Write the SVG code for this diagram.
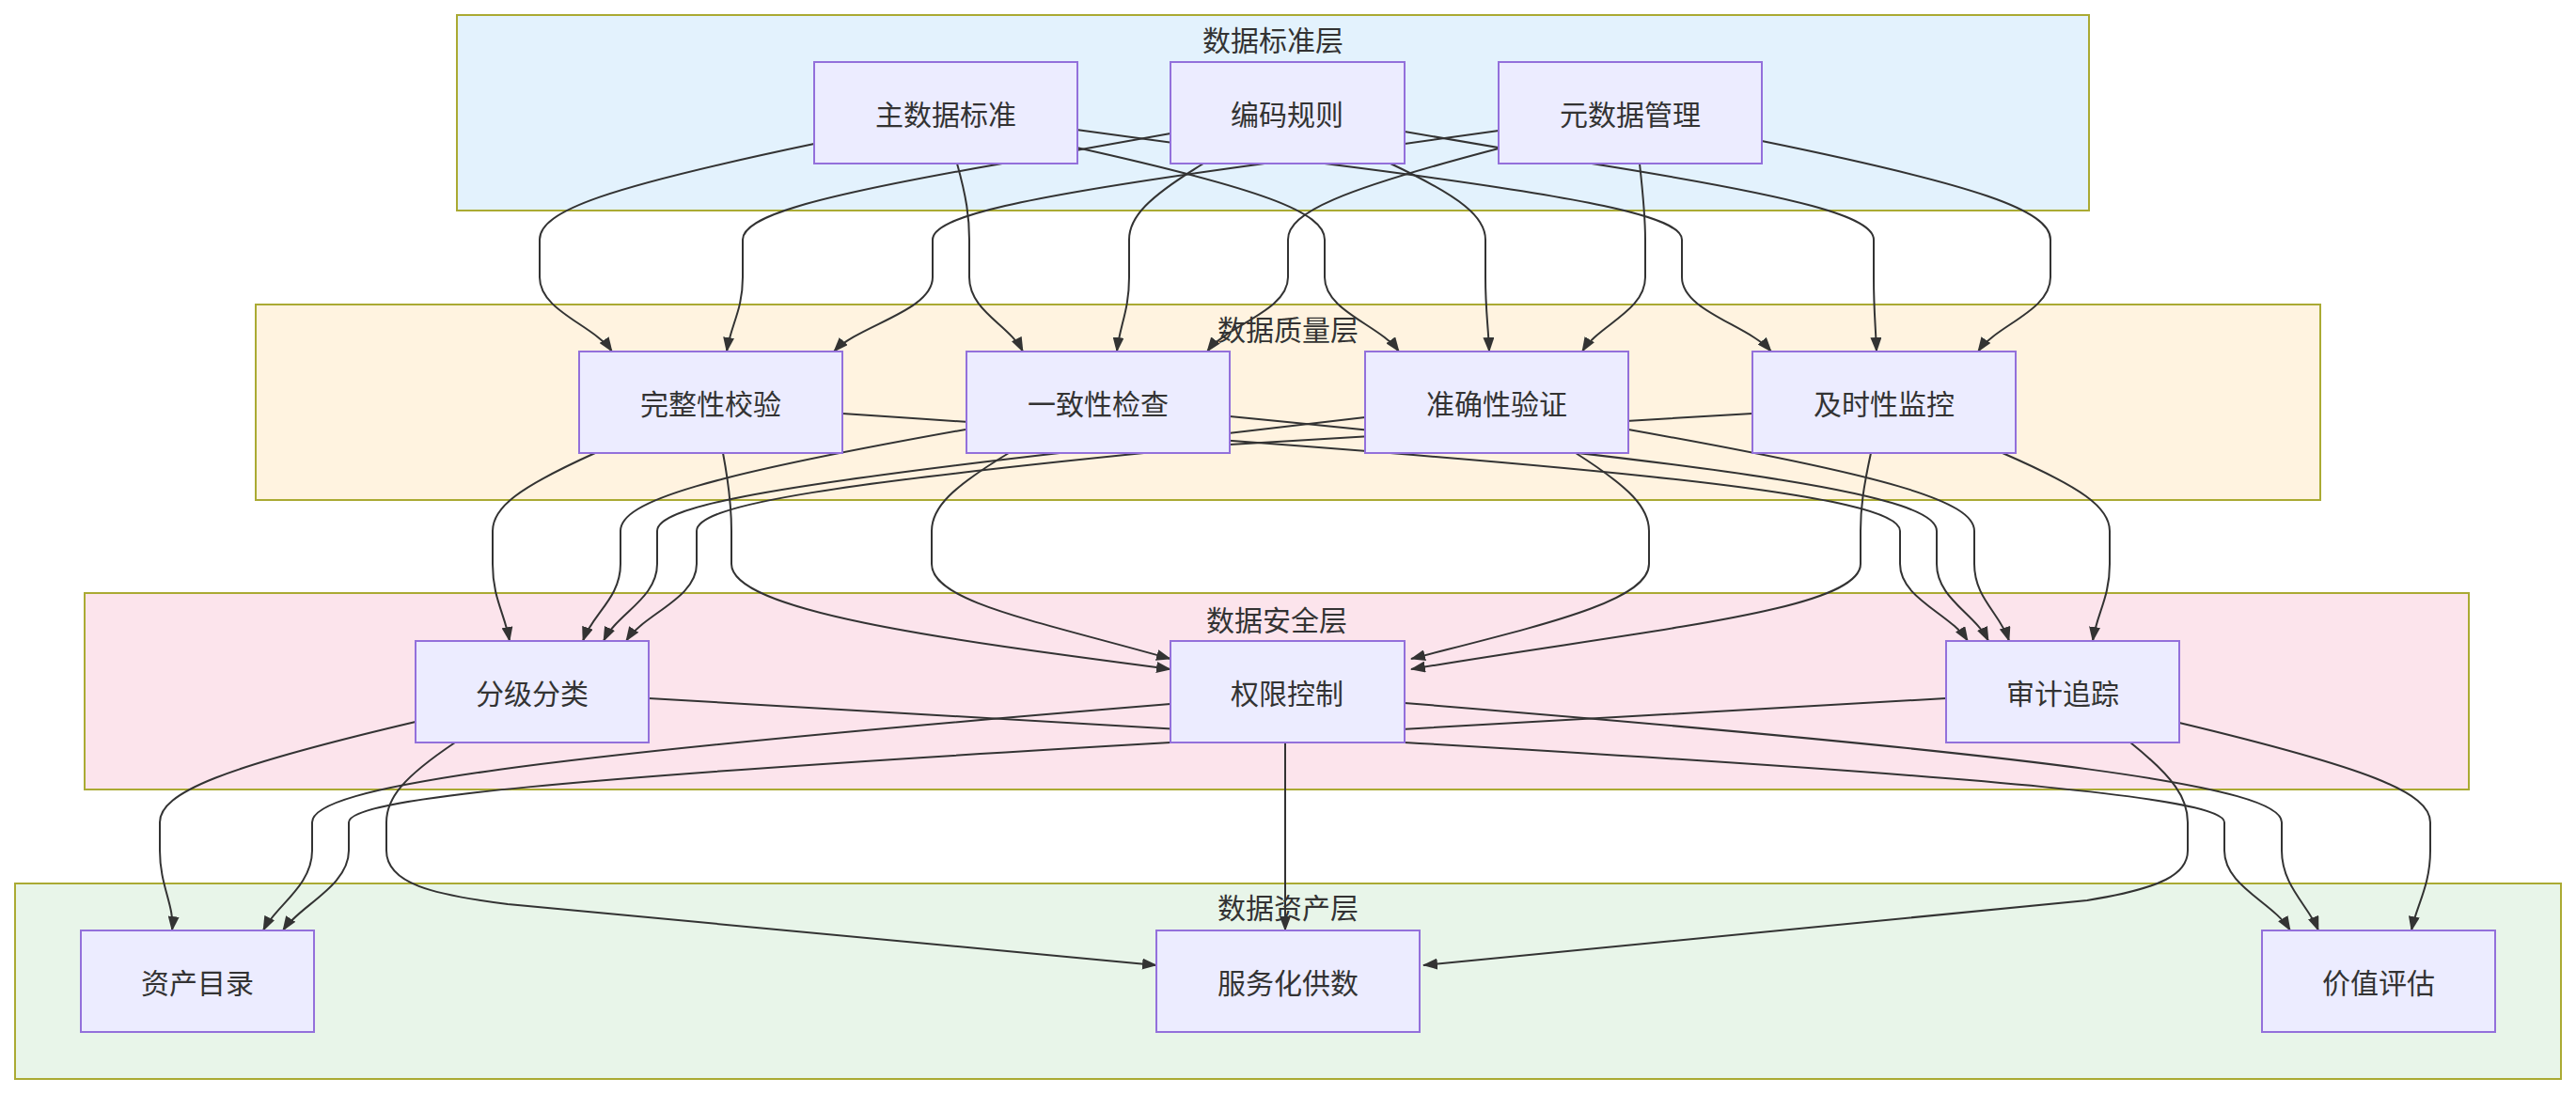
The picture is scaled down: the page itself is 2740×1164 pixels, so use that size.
<svg xmlns="http://www.w3.org/2000/svg" width="2740" height="1164" viewBox="0 0 2740 1164">
<style>
.cl{stroke:#AAAA33;stroke-width:2}
.nd rect{fill:#ECECFF;stroke:#9370DB;stroke-width:2}
text{font-family:"Noto Sans CJK SC","Liberation Sans",sans-serif;font-size:30px;fill:#333;text-anchor:middle;dominant-baseline:central}
.e path{fill:none;stroke:#333;stroke-width:2;marker-end:url(#ah)}
</style>
<defs><marker id="ah" markerUnits="userSpaceOnUse" markerWidth="16" markerHeight="12" refX="15" refY="6" orient="auto"><path d="M0,0 L16,6 L0,12 z" fill="#333"/></marker></defs>
<rect width="2740" height="1164" fill="#fff"/>
<g id="clusters">
<g id="c-std"><rect class="cl" x="486" y="16" width="1736" height="208" fill="#E3F2FD"/><text x="1354" y="41">数据标准层</text></g>
<g id="c-qual"><rect class="cl" x="272" y="324" width="2196" height="208" fill="#FFF3E0"/><text x="1370" y="349">数据质量层</text></g>
<g id="c-sec"><rect class="cl" x="90" y="631" width="2536" height="209" fill="#FCE4EC"/><text x="1358" y="658">数据安全层</text></g>
<g id="c-ast"><rect class="cl" x="16" y="940" width="2708" height="208" fill="#E8F5E9"/><text x="1370" y="964">数据资产层</text></g>
</g>
<g id="edges" class="e">
<path d="M866,153 C647,199 574,224 574,255 L574,295 C574,331 632,346 651,374"/>
<path d="M1245,142 L1066,174 C859,210 790,231 790,255 L790,295 C790,331 777,346 773,374"/>
<path d="M1594,139 L1345,174 C1080,210 992,231 992,255 L992,295 C992,331 913,346 887,374"/>
<path d="M1018,174 C1028,210 1031,231 1031,255 L1031,295 C1031,331 1074,346 1088,374"/>
<path d="M1280,174 C1221,210 1201,231 1201,255 L1201,295 C1201,331 1191,346 1188,374"/>
<path d="M1594,158 C1426,202 1370,226 1370,255 L1370,295 C1370,331 1305,346 1284,374"/>
<path d="M1145,157 C1343,201 1409,226 1409,255 L1409,295 C1409,331 1468,346 1488,374"/>
<path d="M1479,174 C1555,210 1580,231 1580,255 L1580,295 C1580,331 1583,346 1584,374"/>
<path d="M1744,174 C1748,210 1750,231 1750,255 L1750,295 C1750,331 1700,346 1683,374"/>
<path d="M1145,138 L1409,174 C1694,210 1789,231 1789,255 L1789,295 C1789,331 1860,346 1884,374"/>
<path d="M1494,140 L1693,174 C1918,210 1993,231 1993,255 L1993,295 C1993,331 1995,346 1996,374"/>
<path d="M1874,150 C2104,197 2181,224 2181,255 L2181,295 C2181,331 2123,346 2104,374"/>
<path d="M633,482 C551,519 524,540 524,565 L524,600 C524,637 537,653 542,682"/>
<path d="M769,482 C776,519 778,540 778,565 L778,600 C778,650 1000,680 1245,712"/>
<path d="M896,440 C1740,496 2021,527 2021,565 L2021,600 C2021,637 2075,653 2093,682"/>
<path d="M1027,457 C752,506 660,533 660,565 L660,600 C660,637 630,653 620,682"/>
<path d="M1073,482 C1012,519 991,540 991,565 L991,600 C991,640 1100,660 1245,701"/>
<path d="M1308,443 C1872,498 2060,528 2060,565 L2060,600 C2060,637 2101,653 2115,682"/>
<path d="M1452,444 L1127,482 C806,519 699,540 699,565 L699,600 C699,637 656,653 642,682"/>
<path d="M1676,482 C1734,519 1754,540 1754,565 L1754,600 C1754,640 1640,665 1501,701"/>
<path d="M1732,457 C2008,506 2100,533 2100,565 L2100,600 C2100,637 2128,653 2137,682"/>
<path d="M1864,440 L1308,473 C883,514 741,537 741,565 L741,600 C741,637 685,653 666,682"/>
<path d="M1990,482 C1982,519 1979,540 1979,565 L1979,600 C1979,650 1750,670 1501,712"/>
<path d="M2130,482 C2215,519 2244,540 2244,565 L2244,600 C2244,637 2230,653 2226,682"/>
<path d="M442,768 C238,816 170,843 170,875 L170,905 C170,943 186,964 183,990"/>
<path d="M484,790 C429,827 411,849 411,875 L411,905 C411,940 460,952 540,962 L1230,1027"/>
<path d="M690,743 L1494,790 C2148,828 2366,850 2366,875 L2366,905 C2366,943 2418,960 2436,990"/>
<path d="M1245,749 C560,805 332,837 332,875 L332,905 C332,943 293,964 280,990"/>
<path d="M1367,790 L1367,990"/>
<path d="M1494,748 C2194,805 2427,837 2427,875 L2427,905 C2427,943 2456,964 2466,990"/>
<path d="M2070,743 L1245,790 C589,828 371,850 371,875 L371,905 C371,943 318,964 301,990"/>
<path d="M2266,790 C2312,827 2327,849 2327,875 L2327,905 C2327,930 2300,945 2220,958 L1514,1027"/>
<path d="M2318,769 C2518,817 2585,843 2585,875 L2585,905 C2585,943 2570,964 2565,990"/>
</g>
<g id="n-zsj" class="nd"><rect x="866" y="66" width="280" height="108"/><text x="1006" y="120">主数据标准</text></g>
<g id="n-bmgz" class="nd"><rect x="1245" y="66" width="249" height="108"/><text x="1369" y="120">编码规则</text></g>
<g id="n-ysj" class="nd"><rect x="1594" y="66" width="280" height="108"/><text x="1734" y="120">元数据管理</text></g>
<g id="n-wzx" class="nd"><rect x="616" y="374" width="280" height="108"/><text x="756" y="428">完整性校验</text></g>
<g id="n-yzx" class="nd"><rect x="1028" y="374" width="280" height="108"/><text x="1168" y="428">一致性检查</text></g>
<g id="n-zqx" class="nd"><rect x="1452" y="374" width="280" height="108"/><text x="1592" y="428">准确性验证</text></g>
<g id="n-jsx" class="nd"><rect x="1864" y="374" width="280" height="108"/><text x="2004" y="428">及时性监控</text></g>
<g id="n-fjfl" class="nd"><rect x="442" y="682" width="248" height="108"/><text x="566" y="736">分级分类</text></g>
<g id="n-qxkz" class="nd"><rect x="1245" y="682" width="249" height="108"/><text x="1369" y="736">权限控制</text></g>
<g id="n-sjzz" class="nd"><rect x="2070" y="682" width="248" height="108"/><text x="2194" y="736">审计追踪</text></g>
<g id="n-zcml" class="nd"><rect x="86" y="990" width="248" height="108"/><text x="210" y="1044">资产目录</text></g>
<g id="n-fwh" class="nd"><rect x="1230" y="990" width="280" height="108"/><text x="1370" y="1044">服务化供数</text></g>
<g id="n-jzpg" class="nd"><rect x="2406" y="990" width="248" height="108"/><text x="2530" y="1044">价值评估</text></g>
</svg>
